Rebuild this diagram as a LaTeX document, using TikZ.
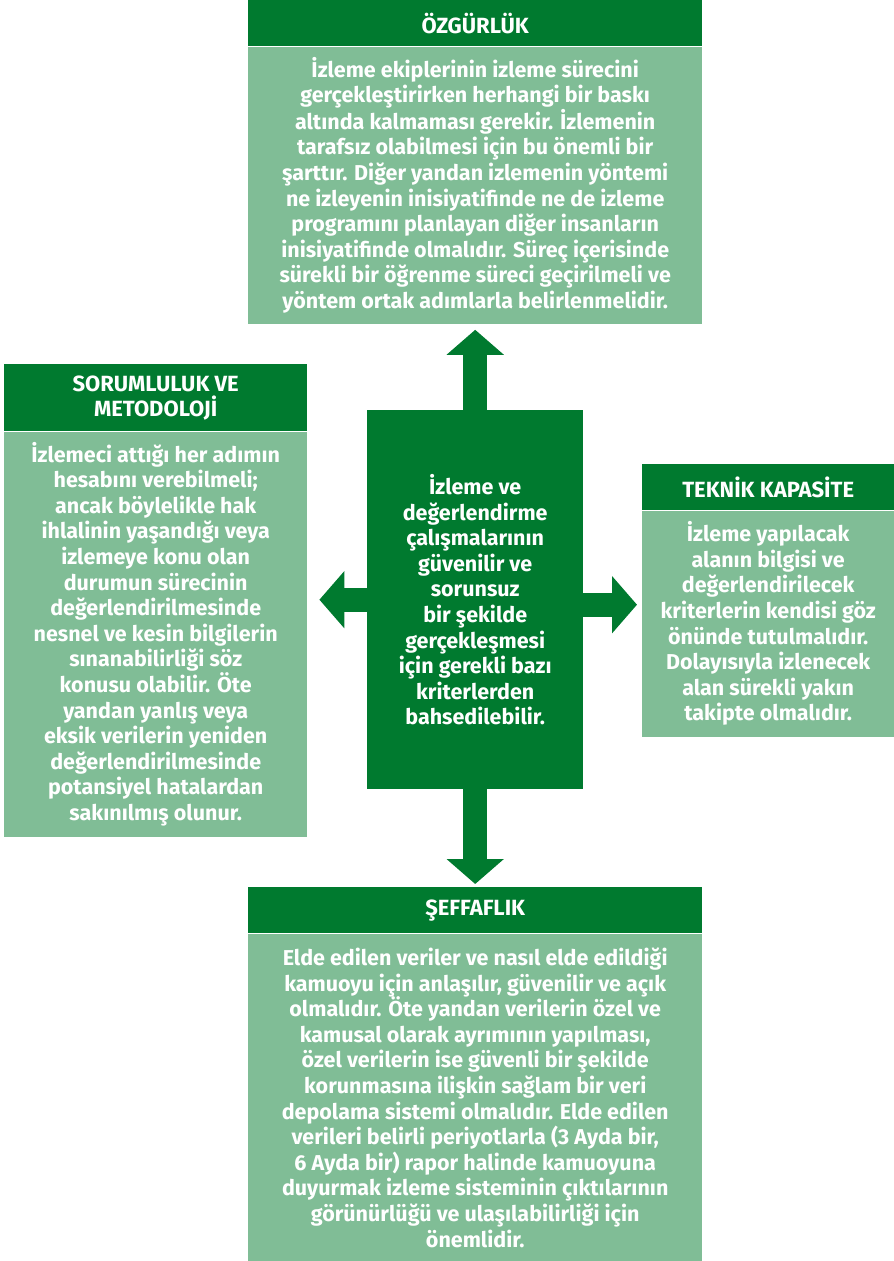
\documentclass[tikz,border=0pt]{standalone}
\usepackage{fontspec}
\setmainfont{Fira Sans}
\usetikzlibrary{positioning,arrows.meta}
\definecolor{koyuyesil}{RGB}{0,122,47}
\definecolor{acikyesil}{RGB}{128,189,150}

\begin{document}
\begin{tikzpicture}[x=1pt, y=-1pt,
    baslik/.style = {fill=koyuyesil, text=white, font=\bfseries\fontsize{22}{25}\selectfont, align=center, inner sep=0pt, anchor=north west},
    govde/.style = {fill=acikyesil, text=white, font=\bfseries\fontsize{21.5}{25.6}\selectfont, align=center, inner sep=0pt},
    ok/.style = {draw=koyuyesil, line width=24pt, -{Triangle[width=56pt,length=25pt]}}]
    \useasboundingbox (0,0) rectangle (894,1261);

    % orta kutu
    \node[govde, fill=koyuyesil, anchor=north west, minimum width=216pt, minimum height=379pt] (merkez) at (367,410)
        {İzleme ve\\değerlendirme\\çalışmalarının\\güvenilir ve\\sorunsuz\\bir şekilde\\gerçekleşmesi\\için gerekli bazı\\kriterlerden\\bahsedilebilir.};

    % ust
    \node[baslik, minimum width=454pt, minimum height=46pt] (ozgurlukbaslik) at (248,0) {ÖZGÜRLÜK};
    \node[govde, minimum width=454pt, minimum height=277pt, below=0pt of ozgurlukbaslik] (ozgurlukgovde)
        {İzleme ekiplerinin izleme sürecini\\gerçekleştirirken herhangi bir baskı\\altında kalmaması gerekir. İzlemenin\\tarafsız olabilmesi için bu önemli bir\\şarttır. Diğer yandan izlemenin yöntemi\\ne izleyenin inisiyatifinde ne de izleme\\programını planlayan diğer insanların\\inisiyatifinde olmalıdır. Süreç içerisinde\\sürekli bir öğrenme süreci geçirilmeli ve\\yöntem ortak adımlarla belirlenmelidir.};

    % sol
    \node[baslik, minimum width=303pt, minimum height=67pt] (sorumlulukbaslik) at (4,364) {SORUMLULUK VE\\METODOLOJİ};
    \node[govde, minimum width=303pt, minimum height=405pt, below=0pt of sorumlulukbaslik] (sorumlulukgovde)
        {İzlemeci attığı her adımın\\hesabını verebilmeli;\\ancak böylelikle hak\\ihlalinin yaşandığı veya\\izlemeye konu olan\\durumun sürecinin\\değerlendirilmesinde\\nesnel ve kesin bilgilerin\\sınanabilirliği söz\\konusu olabilir. Öte\\yandan yanlış veya\\eksik verilerin yeniden\\değerlendirilmesinde\\potansiyel hatalardan\\sakınılmış olunur.};

    % sag
    \node[baslik, minimum width=252pt, minimum height=46pt] (teknikbaslik) at (642,464) {TEKNİK KAPASİTE};
    \node[govde, minimum width=252pt, minimum height=226pt, below=0pt of teknikbaslik] (teknikgovde)
        {İzleme yapılacak\\alanın bilgisi ve\\değerlendirilecek\\kriterlerin kendisi göz\\önünde tutulmalıdır.\\Dolayısıyla izlenecek\\alan sürekli yakın\\takipte olmalıdır.};

    % alt
    \node[baslik, minimum width=454pt, minimum height=46pt] (seffaflikbaslik) at (248,887) {ŞEFFAFLIK};
    \node[govde, minimum width=454pt, minimum height=328pt, below=0pt of seffaflikbaslik] (seffaflikgovde)
        {Elde edilen veriler ve nasıl elde edildiği\\kamuoyu için anlaşılır, güvenilir ve açık\\olmalıdır. Öte yandan verilerin özel ve\\kamusal olarak ayrımının yapılması,\\özel verilerin ise güvenli bir şekilde\\korunmasına ilişkin sağlam bir veri\\depolama sistemi olmalıdır. Elde edilen\\verileri belirli periyotlarla (3 Ayda bir,\\6 Ayda bir) rapor halinde kamuoyuna\\duyurmak izleme sisteminin çıktılarının\\görünürlüğü ve ulaşılabilirliği için\\önemlidir.};

    % oklar
    \draw[ok, shorten >=6pt] (merkez.north) -- (ozgurlukgovde.south);
    \draw[ok, shorten >=3pt] (merkez.south) -- (seffaflikbaslik.north);
    \draw[ok, shorten >=12pt] (merkez.west) -- (merkez.west -| sorumlulukgovde.east);
    \draw[ok, shorten >=5pt] ([yshift=-5pt]merkez.east) -- ([yshift=-5pt]merkez.east -| teknikgovde.west);
\end{tikzpicture}
\end{document}
